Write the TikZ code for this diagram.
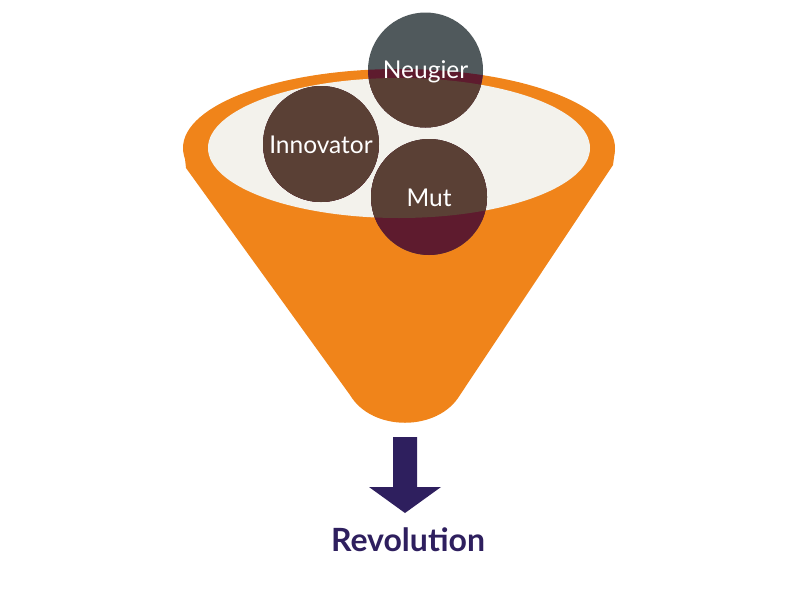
\documentclass[tikz,border=0pt]{standalone}
\usepackage{fontspec}
\setmainfont{Lato}
\begin{document}
\begin{tikzpicture}[x=1pt,y=-1pt,
  lbl/.style={text=white,font=\fontsize{24.5}{28}\selectfont}]
\definecolor{orng}{HTML}{F0841A}
\definecolor{inner}{HTML}{F3F2EC}
\definecolor{cw}{HTML}{50595C}
\definecolor{co}{HTML}{5E1B2E}
\definecolor{ci}{HTML}{5A4035}
\definecolor{arr}{HTML}{2E1F5E}
\useasboundingbox (0,0) rectangle (800,600);
\def\trap{(184,150) -- (186,168) -- (350,395) .. controls (372,432) and (438,432) .. (460,395) -- (613,165) -- (615,150) -- cycle}
\def\outer{(399,148) ellipse [x radius=216, y radius=79]}
\def\inn{(399,148) ellipse [x radius=191, y radius=70]}
\fill[orng] \trap;
\fill[orng] \outer;
\fill[inner] \inn;
\foreach \cx/\cy/\r in {425.5/70/57.5, 321/144/58, 429/197/58}{
  \fill[cw] (\cx,\cy) circle (\r);
  \begin{scope}\clip \outer; \fill[co] (\cx,\cy) circle (\r);\end{scope}
  \begin{scope}\clip \trap; \fill[co] (\cx,\cy) circle (\r);\end{scope}
  \begin{scope}\clip \inn; \fill[ci] (\cx,\cy) circle (\r);\end{scope}
}
\node[lbl] (neu) at (425.5,72) {Neugier};
\node[lbl] (inno) at (321,145) {Innovator};
\node[lbl] (mut) at (429,198) {Mut};
\coordinate (a2) at (405,513);
\fill[arr] (393,437) -- (417,437) -- (417,487) -- (441,487) -- (a2) -- (369,487) -- (393,487) -- cycle;
\node[text=arr,font=\fontsize{32}{36}\selectfont\bfseries] (rev) at (408,540) {Revolution};
\end{tikzpicture}
\end{document}
